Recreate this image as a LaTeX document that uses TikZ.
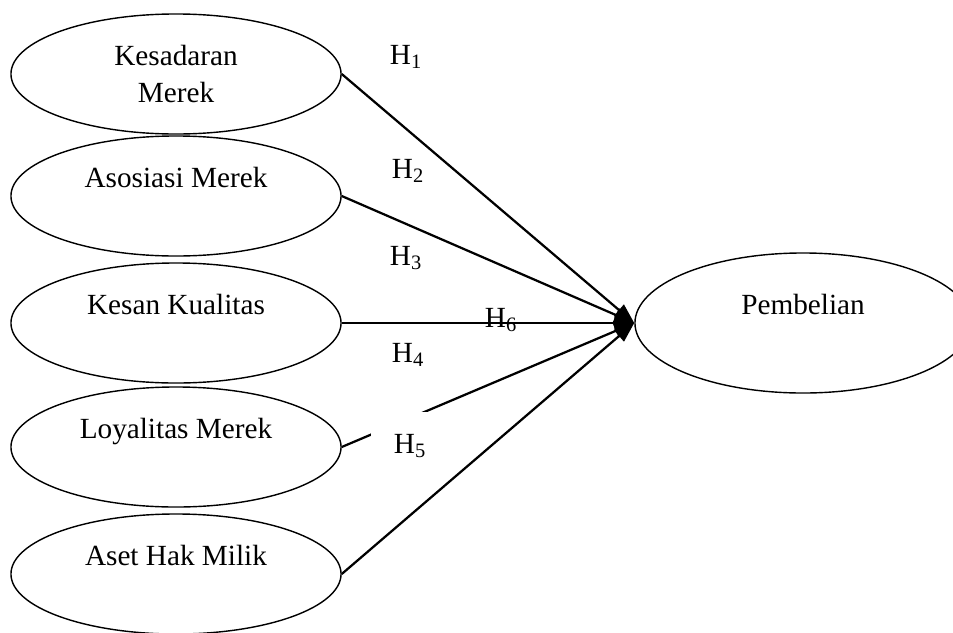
\documentclass[tikz,border=0pt]{standalone}
\usepackage{fontspec}
\setmainfont{Liberation Serif}
\usetikzlibrary{shapes.geometric,arrows.meta}

\begin{document}
\begin{tikzpicture}[x=0.025cm,y=-0.025cm,>={Triangle[length=0.5cm,width=0.36cm]}]
    \tikzstyle{construct}=[ellipse,draw,line width=1pt,minimum width=8.25cm,minimum height=3cm,inner sep=0pt,align=center,font=\fontsize{20.8}{27}\selectfont]
    \tikzstyle{hyp}=[inner sep=0pt,font=\fontsize{20.8}{24}\selectfont]
    \tikzstyle{link}=[->,line width=1.6pt]

    \useasboundingbox (0,0) rectangle (953,632);

    % Draw the brand equity variables
    \node[construct] (X-1) at (176,74) {Kesadaran\\Merek};
    \node[construct] (X-2) at (176,196) {Asosiasi Merek\\\mbox{}};
    \node[construct] (X-3) at (176,323) {Kesan Kualitas\\\mbox{}};
    \node[construct] (X-4) at (176,447) {Loyalitas Merek\\\mbox{}};
    \node[construct] (X-5) at (176,574) {Aset Hak Milik\\\mbox{}};

    % Draw the purchase variable
    \node[construct, minimum width=8.4cm, minimum height=3.5cm] (Y) at (803,323) {Pembelian\\\mbox{}};

    % Connect the variables with the purchase variable
    \foreach \source in {1,...,4}
        \draw[link] (X-\source.east) -- (Y.west);

    % Annotate the hypotheses
    \node[hyp] (H-1) at (406,57) {H\textsubscript{1}};
    \node[hyp] (H-2) at (408,171) {H\textsubscript{2}};
    \node[hyp] (H-3) at (406,258) {H\textsubscript{3}};
    \node[hyp] (H-4) at (408,355) {H\textsubscript{4}};
    \node[hyp, fill=white, inner xsep=0.575cm, inner ysep=0.55cm] (H-5) at (410,446) {H\textsubscript{5}};
    \node[hyp] (H-6) at (501,320) {H\textsubscript{6}};

    \draw[link] (X-5.east) -- (Y.west);
\end{tikzpicture}
\end{document}
